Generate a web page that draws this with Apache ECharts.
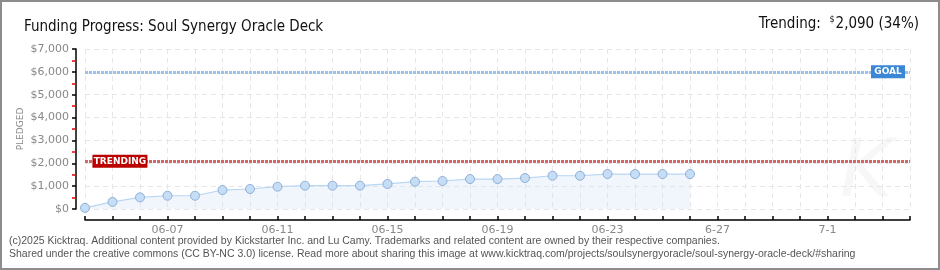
<!DOCTYPE html>
<html><head><meta charset="utf-8">
<script src="https://cdn.jsdelivr.net/npm/echarts@6/dist/echarts.min.js"></script>
<style>
html,body{margin:0;padding:0;background:#fff;}
#wrap{width:940px;height:270px;box-sizing:border-box;border:2px solid #8c8c8c;position:relative;overflow:hidden;}
#c{position:absolute;left:-2px;top:-2px;width:940px;height:270px;}
</style></head>
<body><div id="wrap"><div id="c"></div></div>
<script>
// x axis days (06-04 .. 07-04)
const days = ["06-04","06-05","06-06","06-07","06-08","06-09","06-10","06-11","06-12","06-13","06-14","06-15","06-16","06-17","06-18","06-19","06-20","06-21","06-22","06-23","06-24","06-25","06-26","06-27","06-28","06-29","06-30","07-01","07-02","07-03","07-04"];
// tick labels shown
const tickLabels = {"06-07":"06-07","06-11":"06-11","06-15":"06-15","06-19":"06-19","06-23":"06-23","06-27":"6-27","07-01":"7-1"};
// pledged values per day (06-04 .. 06-26)
const pledged = [50,310,510,580,580,830,875,975,1020,1020,1020,1095,1195,1225,1310,1310,1355,1455,1455,1530,1530,1530,1530];
const goal = 6000;
const trending = 2090;
const trendingPct = 34;
const yTicks = [0,1000,2000,3000,4000,5000,6000,7000];

const chart = echarts.init(document.getElementById('c'), null, {renderer:'canvas'});
const fmt = v => '$' + v.toLocaleString('en-US');
const seriesData = pledged.map((v,i)=>[i,v]);
const TF = '"DejaVu Sans Condensed", Lato, sans-serif';

chart.setOption({
  animation:false,
  grid:{left:85,right:30,top:49,bottom:61,containLabel:false},
  title:{
    text:'Funding Progress: Soul Synergy Oracle Deck',
    left:19, top:15,
    textStyle:{fontFamily:TF,fontSize:15,fontWeight:'normal',color:'#111'}
  },
  graphic:[
    {type:'text',right:21,top:15,style:{
      text:'{a|Trending:  }{s|$}{a|'+trending.toLocaleString('en-US')+' ('+trendingPct+'%)}',
      rich:{a:{fontFamily:TF,fontSize:15,fill:'#111',verticalAlign:'bottom'},
            s:{fontFamily:TF,fontSize:9,fill:'#111',verticalAlign:'top',padding:[0,1,8,0]}}
    }},
    {type:'text',left:9,top:236,style:{text:'(c)2025 Kicktraq. Additional content provided by Kickstarter Inc. and Lu Camy. Trademarks and related content are owned by their respective companies.',font:'10.5px "Liberation Sans"',fill:'#555'}},
    {type:'text',left:9,top:249,style:{text:'Shared under the creative commons (CC BY-NC 3.0) license. Read more about sharing this image at www.kicktraq.com/projects/soulsynergyoracle/soul-synergy-oracle-deck/#sharing',font:'10.5px "Liberation Sans"',fill:'#555'}},
    {type:'text',left:840,top:135,z:-1,style:{text:'K',font:'italic 80px "DejaVu Sans"',fill:'#f7f7f7'}}
  ],
  xAxis:{
    type:'value',min:0,max:days.length-1,interval:1,offset:11,
    axisLine:{show:true,onZero:false,lineStyle:{color:'#000',width:1.5}},
    axisTick:{show:true,inside:true,length:4,lineStyle:{color:'#000',width:1.5}},
    axisLabel:{
      interval:0,margin:5,color:'#888',fontFamily:'DejaVu Sans',fontSize:11,
      formatter:v=>tickLabels[days[v]]||''
    },
    splitLine:{show:true,lineStyle:{color:'#e6e6e6',type:[5,4],width:1}}
  },
  yAxis:{
    type:'value',min:0,max:7000,interval:1000,offset:9,
    name:'PLEDGED',nameLocation:'middle',nameGap:51,nameMoveOverlap:false,
    nameTextStyle:{fontFamily:'DejaVu Sans',fontSize:9,color:'#888'},
    axisLine:{show:true,onZero:false,lineStyle:{color:'#000',width:1.5}},
    axisTick:{show:true,length:4,lineStyle:{color:'#000',width:1.5}},
    minorTick:{show:true,splitNumber:2,length:4,lineStyle:{color:'#e00',width:1.5}},
    axisLabel:{margin:7,color:'#888',fontFamily:'DejaVu Sans',fontSize:11,
      formatter:v=>yTicks.includes(v)?fmt(v):''},
    splitLine:{show:true,lineStyle:{color:'#e6e6e6',type:[5,4],width:1}}
  },
  series:[
    {
      type:'line',data:seriesData,
      symbol:'circle',symbolSize:9,
      lineStyle:{color:'#b9d6f4',width:1.2},
      itemStyle:{color:'#c6ddf6',borderColor:'#8eaed6',borderWidth:1},
      areaStyle:{color:'rgba(210,228,248,0.45)'},
      z:3,
      markLine:{
        silent:true,symbol:'none',animation:false,
        label:{show:false},
        data:[
          {yAxis:goal,lineStyle:{color:'#9cc2ec',type:[3,1],width:3}},
          {yAxis:trending,lineStyle:{color:'#d06868',type:[3,1],width:3}}
        ]
      },
      markPoint:{
        silent:true,animation:false,
        data:[
          {coord:[29.2,goal],symbol:'rect',symbolSize:[34,13],
           itemStyle:{color:'#3a87d6'},
           label:{show:true,formatter:'GOAL',color:'#fff',fontFamily:'DejaVu Sans',fontSize:9,fontWeight:'bold'}},
          {coord:[1.27,trending],symbol:'rect',symbolSize:[55,13],
           itemStyle:{color:'#bb0000'},
           label:{show:true,formatter:'TRENDING',color:'#fff',fontFamily:'DejaVu Sans',fontSize:9,fontWeight:'bold'}}
        ]
      }
    }
  ]
});
</script>
</body></html>
